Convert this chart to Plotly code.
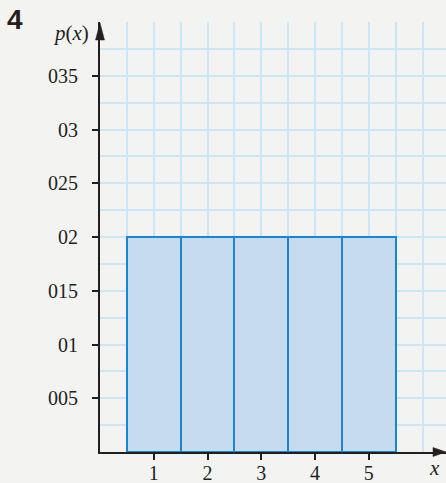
import plotly.graph_objects as go

# Discrete uniform distribution p(x) for x = 1..5
x_values = [1, 2, 3, 4, 5]
p_values = [0.2, 0.2, 0.2, 0.2, 0.2]

y_tickvals = [0.05, 0.10, 0.15, 0.20, 0.25, 0.30, 0.35]
y_ticktext = ["005", "01", "015", "02", "025", "03", "035"]
x_tickvals = [1, 2, 3, 4, 5]
x_ticktext = ["1", "2", "3", "4", "5"]

W, H = 446, 483
L, R, T, B = 100, 0, 22, 31
PW, PH = W - L - R, H - T - B
Y_MAX = 0.4
PX_PER_X = PH / Y_MAX * 0.05  # one x unit spans the same height as 0.05 of p(x)
X_MAX = PW / PX_PER_X

BG = "#f3f4f1"
GRID = "#c8e8f8"
INK = "#231f20"
SERIF = "Liberation Serif, Times New Roman, serif"


def px_to_paper(px, py):
    return (px - L) / PW, (H - B - py) / PH


fig = go.Figure()

# invisible trace that carries the squared-paper grid axes
fig.add_trace(go.Scatter(x=[0], y=[0], xaxis="x2", yaxis="y2", mode="markers",
                         marker=dict(opacity=0), hoverinfo="skip", showlegend=False))

fig.add_trace(go.Bar(
    x=x_values, y=p_values, width=1,
    marker=dict(color="#c6dbef", line=dict(color="#1a86cf", width=2)),
    hoverinfo="skip",
))

common = dict(automargin=False, fixedrange=True, zeroline=False)

fig.update_layout(
    xaxis=dict(
        range=[0, X_MAX], tickmode="array", tickvals=x_tickvals, ticktext=x_ticktext,
        ticks="outside", ticklen=6, tickwidth=1.5, tickcolor=INK,
        showline=True, linewidth=2, linecolor=INK, showgrid=False,
        tickfont=dict(family=SERIF, size=20, color=INK), ticklabelstandoff=-4,
        **common,
    ),
    yaxis=dict(
        range=[0, Y_MAX], tickmode="array", tickvals=y_tickvals, ticktext=y_ticktext,
        ticks="outside", ticklen=6, tickwidth=1.5, tickcolor=INK,
        showline=True, linewidth=2, linecolor=INK, showgrid=False,
        tickfont=dict(family=SERIF, size=20, color=INK), ticklabelstandoff=10,
        **common,
    ),
    xaxis2=dict(
        range=[0, X_MAX], overlaying="x", anchor="y2", tick0=0, dtick=0.5,
        showgrid=True, gridcolor=GRID, gridwidth=1.5, showticklabels=False,
        ticks="", showline=False, **common,
    ),
    yaxis2=dict(
        range=[0, Y_MAX], overlaying="y", anchor="x2", tick0=0, dtick=0.025,
        showgrid=True, gridcolor=GRID, gridwidth=1.5, showticklabels=False,
        ticks="", showline=False, **common,
    ),
)

# Arrowheads on the axes (in paper coordinates)
ax0, ay0 = px_to_paper(100, 23)
ax1, ay1 = px_to_paper(95.5, 40)
ax2, ay2 = px_to_paper(104.5, 40)
bx0, by0 = px_to_paper(446, 452)
bx1, by1 = px_to_paper(433, 447.5)
bx2, by2 = px_to_paper(433, 456.5)
for pts in ([(ax0, ay0), (ax1, ay1), (ax2, ay2)], [(bx0, by0), (bx1, by1), (bx2, by2)]):
    path = "M " + " L ".join(f"{a:.5f},{b:.5f}" for a, b in pts) + " Z"
    fig.add_shape(type="path", path=path, xref="paper", yref="paper",
                  fillcolor=INK, line=dict(color=INK, width=0.5), layer="above")


def label(px, py, text, font):
    xp, yp = px_to_paper(px, py)
    fig.add_annotation(x=xp, y=yp, xref="paper", yref="paper", text=text,
                       showarrow=False, xanchor="center", yanchor="middle", font=font)


label(71, 33, "<i>p</i>(<i>x</i>)", dict(family=SERIF, size=21, color=INK))
label(434, 468, "<i>x</i>", dict(family=SERIF, size=21, color=INK))
label(15, 20, "<b>4</b>", dict(family="Liberation Sans, Arial, sans-serif", size=28, color=INK))

fig.update_layout(
    width=W, height=H, margin=dict(l=L, r=R, t=T, b=B, autoexpand=False),
    paper_bgcolor=BG, plot_bgcolor=BG, showlegend=False, bargap=0,
)

fig.write_html("out.html", config={"displayModeBar": False})
